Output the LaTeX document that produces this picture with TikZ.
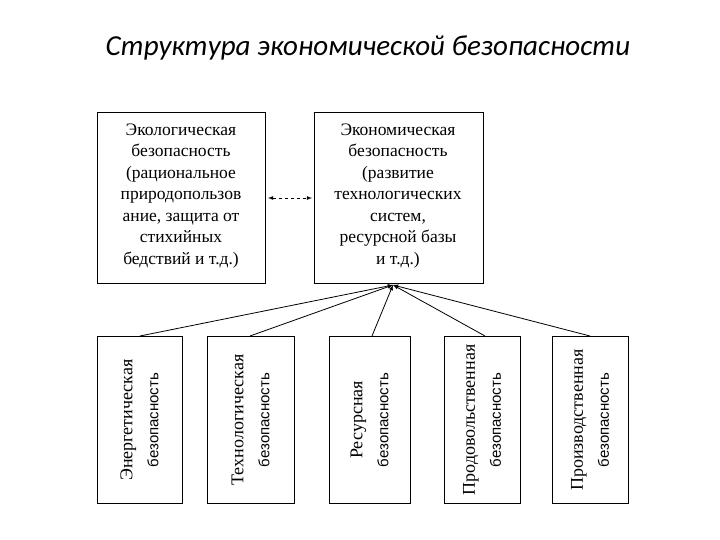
\documentclass[tikz,border=0pt]{standalone}
\usepackage{fontspec}
\setmainfont{Liberation Serif}
\newfontfamily\titlefont{Carlito}
\newfontfamily\sansf{Liberation Sans}
\begin{document}
\begin{tikzpicture}[x=1pt,y=-1pt,
  box/.style={draw,line width=1pt},
  txt/.style={align=center,font=\fontsize{17.5}{21.5}\selectfont},
  rtxt/.style={align=center,rotate=90,font=\fontsize{18}{26}\selectfont},
  arr/.style={-latex,line width=0.8pt}]
\useasboundingbox (0,0) rectangle (720,540);
\node[font=\titlefont\itshape\fontsize{29}{32}\selectfont] (title) at (368,48) {Структура экономической безопасности};
\draw[box] (97,113) rectangle (265,283);
\node[txt] (eco) at (181,196) {Экологическая\\безопасность\\(рациональное\\природопользов\\ание, защита от\\стихийных\\бедствий и т.д.)};
\draw[box] (314,113) rectangle (483,283);
\node[txt] (ec) at (398,196) {Экономическая\\безопасность\\(развитие\\технологических\\систем,\\ресурсной базы\\и т.д.)};
\coordinate (L) at (268,198); \coordinate (R) at (312,198);
\draw[latex-latex,dashed,line width=0.8pt] (L) -- (R);
\coordinate (T) at (393,285);
\foreach \n/\a/\b/\cx/\la/\lb in {1/97/182/140/Энергетическая/безопасность,
  2/207/294/250/Технологическая/безопасность,
  3/329/410/372/Ресурсная/безопасность,
  4/444/520/485/Продовольственная/безопасность,
  5/552/628/590/Производственная/безопасность}{
  \draw[box] (\a,336) rectangle (\b,503);
  \node[rtxt] (b\n) at ({(\a+\b)/2},420) {\la\\{\sansf\fontsize{15}{26}\selectfont \lb}};
  \coordinate (s\n) at (\cx,336);
  \draw[arr] (s\n) -- (T);
}
\end{tikzpicture}
\end{document}
